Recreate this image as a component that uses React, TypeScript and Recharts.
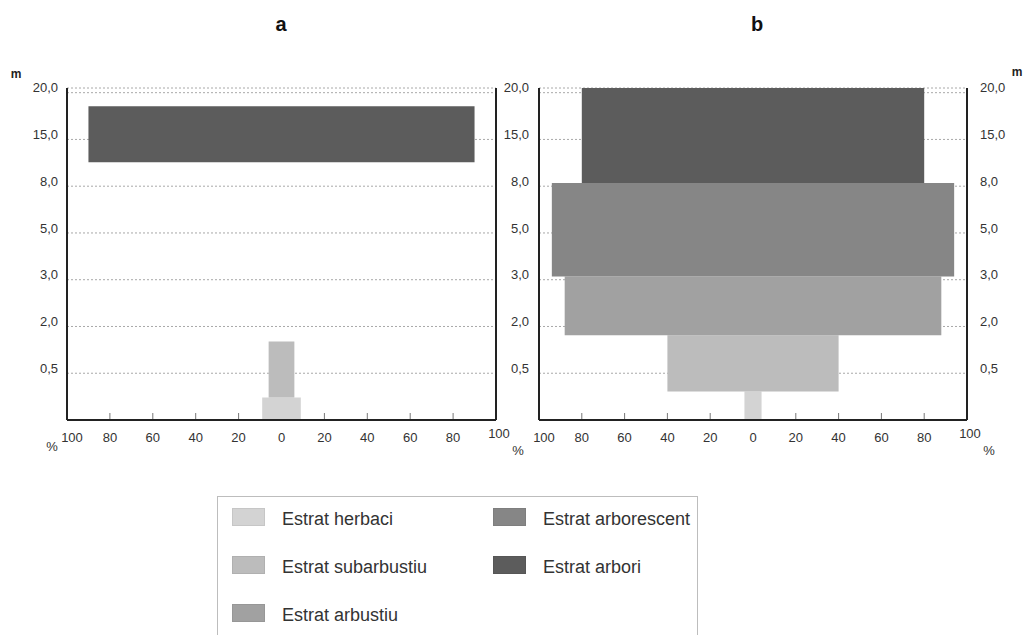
import React from "react";
import { ComposedChart, Area, XAxis, YAxis, CartesianGrid } from "recharts";

const ESTRATS = [
  "Estrat herbaci",
  "Estrat subarbustiu",
  "Estrat arbustiu",
  "Estrat arborescent",
  "Estrat arbori",
];
const GRISOS = ["#d3d3d3", "#bcbcbc", "#a1a1a1", "#868686", "#5c5c5c"];

// height classes (m); each one sits on its own level of the vertical axis
const ALTURES = [0.5, 2, 3, 5, 8, 15, 20];
const NIVELLS = [1, 2, 3, 4, 5, 6, 7];
const PERCENTATGES = [-100, -80, -60, -40, -20, 0, 20, 40, 60, 80, 100];

// profile a: cover (%) and lower/upper limit of each stratum, in levels
const COBERTURA_A = [9, 6, 0, 0, 90];
const BASE_A = [0, 0.48, 0, 0, 5.51];
const SOSTRE_A = [0.48, 1.68, 0, 0, 6.71];

// profile b
const COBERTURA_B = [4, 40, 88, 94, 80];
const BASE_B = [0, 0.61, 1.81, 3.07, 5.07];
const SOSTRE_B = [0.61, 1.81, 3.07, 5.07, 7.17];

const FONT = '"Liberation Sans", Arial, Helvetica, sans-serif';
const TEXT = "#333";

const fmtAltura = (v: number) => v.toFixed(1).replace(".", ",");

// one rectangle per stratum, symmetric around 0
const estratData = (cob: number[], base: number[], sostre: number[], i: number) => [
  { x: -cob[i], y: [base[i], sostre[i]] },
  { x: cob[i], y: [base[i], sostre[i]] },
];

const makeXTick = (pctLeft: boolean) => (props: any) => {
  const { x, y, payload } = props;
  const v = payload.value;
  let dx = 0;
  let dy = 0;
  if (v === -100) dx = 5;
  if (v === 100) {
    dx = 3;
    dy = -4;
  }
  return (
    <g>
      {Math.abs(v) !== 100 && v !== 0 && (
        <line x1={x} x2={x} y1={y - 1} y2={y - 7} stroke="#777" strokeWidth={1} />
      )}
      <text x={x + dx} y={y + 22 + dy} textAnchor="middle" fontSize={13} fill={TEXT} fontFamily={FONT}>
        {Math.abs(v)}
      </text>
      {v === -100 && pctLeft && (
        <text x={x - 15} y={y + 31} textAnchor="middle" fontSize={13} fill={TEXT} fontFamily={FONT}>
          %
        </text>
      )}
      {v === 100 && (
        <text x={x + 22} y={y + 35} textAnchor="middle" fontSize={13} fill={TEXT} fontFamily={FONT}>
          %
        </text>
      )}
    </g>
  );
};

const makeYTick = (anchor: "start" | "end") => (props: any) => {
  const { x, y, payload } = props;
  const idx = NIVELLS.indexOf(payload.value);
  return (
    <text x={x} y={y - 5} dy="0.36em" textAnchor={anchor} fontSize={13} fill={TEXT} fontFamily={FONT}>
      {fmtAltura(ALTURES[idx])}
    </text>
  );
};

const unitLabel = (dx: number, dy: number) => (props: any) => {
  const vb = props.viewBox || {};
  return (
    <text
      x={(vb.x || 0) + dx}
      y={(vb.y || 0) + dy}
      textAnchor="middle"
      fontSize={12}
      fontWeight="bold"
      fill="#222"
      fontFamily={FONT}
    >
      m
    </text>
  );
};

interface PerfilProps {
  cobertura: number[];
  base: number[];
  sostre: number[];
  width: number;
  right: number;
  leftWidth: number;
  rightWidth: number;
  leftGap: number;
  rightGap: number;
  rightTicks: boolean;
  unitSide: "left" | "right";
  pctLeft: boolean;
}

const Perfil = (p: PerfilProps) => {
  const axisLine = { stroke: "#222", strokeWidth: 2 };
  return (
    <ComposedChart
      width={p.width}
      height={470}
      margin={{ top: 88, right: p.right, bottom: 20, left: 0 }}
    >
      <CartesianGrid
        vertical={false}
        yAxisId="l"
        stroke="#a8a8a8"
        strokeDasharray="2 2"
      />
      <XAxis
        type="number"
        dataKey="x"
        domain={[-100, 100]}
        ticks={PERCENTATGES}
        interval={0}
        allowDataOverflow
        height={30}
        axisLine={axisLine}
        tickLine={false}
        tickSize={0}
        tickMargin={0}
        tick={makeXTick(p.pctLeft)}
      />
      <YAxis
        yAxisId="l"
        type="number"
        domain={[0, 7.1]}
        ticks={NIVELLS}
        interval={0}
        allowDataOverflow
        width={p.leftWidth}
        axisLine={axisLine}
        tickLine={false}
        tickSize={0}
        tickMargin={p.leftGap}
        tick={makeYTick("end")}
        label={p.unitSide === "left" ? unitLabel(16, -10) : undefined}
      />
      <YAxis
        yAxisId="r"
        orientation="right"
        type="number"
        domain={[0, 7.1]}
        ticks={NIVELLS}
        interval={0}
        allowDataOverflow
        width={p.rightWidth}
        axisLine={axisLine}
        tickLine={false}
        tickSize={0}
        tickMargin={p.rightGap}
        tick={p.rightTicks ? makeYTick("start") : false}
        label={p.unitSide === "right" ? unitLabel(p.rightWidth, -12) : undefined}
      />
      {ESTRATS.map((nom, i) =>
        p.cobertura[i] > 0 ? (
          <Area
            key={nom}
            name={nom}
            yAxisId="l"
            data={estratData(p.cobertura, p.base, p.sostre, i)}
            dataKey="y"
            type="linear"
            fill={GRISOS[i]}
            fillOpacity={1}
            stroke="none"
            dot={false}
            activeDot={false}
            isAnimationActive={false}
          />
        ) : null
      )}
    </ComposedChart>
  );
};

const Llegenda = () => (
  <div
    style={{
      position: "absolute",
      left: 217,
      top: 496,
      width: 481,
      height: 160,
      border: "1px solid #bdbdbd",
      boxSizing: "border-box",
    }}
  >
    {ESTRATS.map((nom, i) => {
      const col = i < 3 ? 0 : 1;
      const row = i < 3 ? i : i - 3;
      return (
        <div
          key={nom}
          style={{ position: "absolute", left: col === 0 ? 14 : 275, top: 11 + row * 48 }}
        >
          <div
            style={{
              position: "absolute",
              left: 0,
              top: 0,
              width: 33,
              height: 18,
              background: GRISOS[i],
              boxShadow: "inset 0 0 0 1px rgba(0,0,0,0.06)",
            }}
          />
          <div
            style={{
              position: "absolute",
              left: 50,
              top: 2,
              whiteSpace: "nowrap",
              fontSize: 18,
              lineHeight: "18px",
              color: TEXT,
            }}
          >
            {nom}
          </div>
        </div>
      );
    })}
  </div>
);

const Titol = ({ text, cx }: { text: string; cx: number }) => (
  <div
    style={{
      position: "absolute",
      left: cx - 20,
      top: 14,
      width: 40,
      textAlign: "center",
      fontSize: 20,
      lineHeight: "20px",
      fontWeight: "bold",
      color: "#111",
    }}
  >
    {text}
  </div>
);

export default function App() {
  return (
    <div
      style={{
        position: "absolute",
        left: 0,
        top: 0,
        width: 1026,
        height: 635,
        background: "#fff",
        overflow: "hidden",
        fontFamily: FONT,
      }}
    >
      <Titol text="a" cx={281} />
      <Titol text="b" cx={757} />
      <div style={{ position: "absolute", left: 0, top: 0 }}>
        <Perfil
          cobertura={COBERTURA_A}
          base={BASE_A}
          sostre={SOSTRE_A}
          width={540}
          right={4}
          leftWidth={67}
          rightWidth={40}
          leftGap={9}
          rightGap={9}
          rightTicks={false}
          unitSide="left"
          pctLeft={true}
        />
      </div>
      <div style={{ position: "absolute", left: 480, top: 0 }}>
        <Perfil
          cobertura={COBERTURA_B}
          base={BASE_B}
          sostre={SOSTRE_B}
          width={546}
          right={9}
          leftWidth={59}
          rightWidth={50}
          leftGap={10}
          rightGap={13}
          rightTicks={true}
          unitSide="right"
          pctLeft={false}
        />
      </div>
      <Llegenda />
    </div>
  );
}
